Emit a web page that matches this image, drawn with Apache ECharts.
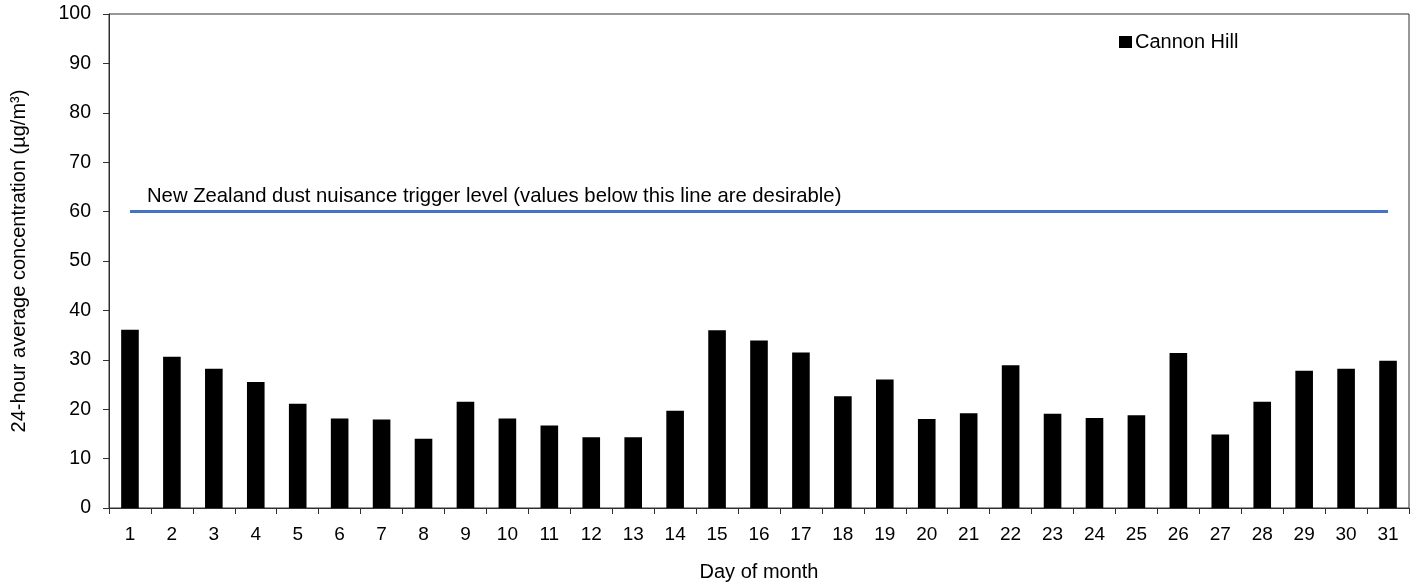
<!DOCTYPE html>
<html>
<head>
<meta charset="utf-8">
<title>Cannon Hill</title>
<script src="https://cdn.jsdelivr.net/npm/echarts@6/dist/echarts.min.js"></script>
<style>
    html, body { margin: 0; padding: 0; background: #fff; }
    #chart { width: 1416px; height: 587px; }
</style>
</head>
<body>
<div id="chart"></div>
<script>
const days = ["1", "2", "3", "4", "5", "6", "7", "8", "9", "10", "11", "12", "13", "14", "15", "16",
    "17", "18", "19", "20", "21", "22", "23", "24", "25", "26", "27", "28", "29", "30", "31"];
const cannonHill = [36.1, 30.6, 28.2, 25.5, 21.1, 18.1, 17.9, 14.0, 21.5, 18.1, 16.7, 14.3, 14.3, 19.7, 36.0, 33.9,
    31.5, 22.6, 26.0, 18.0, 19.2, 28.9, 19.1, 18.2, 18.8, 31.4, 14.9, 21.5, 27.8, 28.2, 29.8];
const triggerLevel = 60;
const triggerText = "New Zealand dust nuisance trigger level (values below this line are desirable)";

(function () {
    let chart = echarts.init(document.querySelector("#chart"));
    const font = "'Liberation Sans', Arial, sans-serif";
    const axisColor = "#303030";

    let option = {
        animation: false,
        textStyle: { fontFamily: font },
        grid: {
            left: 109,
            right: 7,
            top: 14,
            bottom: 76,
            show: true,
            borderColor: axisColor,
            borderWidth: 1,
            containLabel: false
        },
        legend: {
            left: 1114,
            top: 27,
            icon: "rect",
            itemWidth: 13,
            itemHeight: 12,
            itemGap: 10,
            textStyle: { fontSize: 20, color: "#000", fontFamily: font, padding: [0, 0, 0, -2] },
            data: ["Cannon Hill"]
        },
        xAxis: {
            type: "category",
            data: days,
            boundaryGap: true,
            name: "Day of month",
            nameLocation: "middle",
            nameGap: 54,
            nameTextStyle: { fontSize: 20, color: "#000", fontFamily: font },
            axisLine: { lineStyle: { color: axisColor, width: 1 } },
            axisTick: { show: true, length: 6, interval: 0, lineStyle: { color: axisColor } },
            axisLabel: { interval: 0, margin: 17, fontSize: 19, color: "#000", fontFamily: font },
            splitLine: { show: false }
        },
        yAxis: {
            type: "value",
            min: 0,
            max: 100,
            interval: 10,
            name: "24-hour average concentration (µg/m³)",
            nameLocation: "middle",
            nameGap: 80,
            nameTextStyle: { fontSize: 20, color: "#000", fontFamily: font },
            axisLine: { show: true, lineStyle: { color: axisColor, width: 1 } },
            axisTick: { show: true, length: 6, lineStyle: { color: axisColor } },
            axisLabel: { margin: 18, fontSize: 19.5, color: "#000", fontFamily: font },
            splitLine: { show: false }
        },
        series: [
            {
                name: "Cannon Hill",
                type: "bar",
                data: cannonHill,
                barWidth: "42%",
                itemStyle: { color: "#000" },
                markLine: {
                    silent: true,
                    symbol: ["none", "none"],
                    lineStyle: { color: "#4472C4", width: 3, type: "solid" },
                    label: {
                        show: true,
                        position: "insideStartTop",
                        formatter: triggerText,
                        color: "#000",
                        fontSize: 20.3,
                        fontFamily: font,
                        distance: [17, 5]
                    },
                    emphasis: { disabled: true },
                    data: [
                        [
                            { coord: [days[0], triggerLevel] },
                            { coord: [days[days.length - 1], triggerLevel] }
                        ]
                    ]
                }
            }
        ]
    };

    chart.setOption(option);
    window.addEventListener("resize", () => chart.resize());
})();
</script>
</body>
</html>
